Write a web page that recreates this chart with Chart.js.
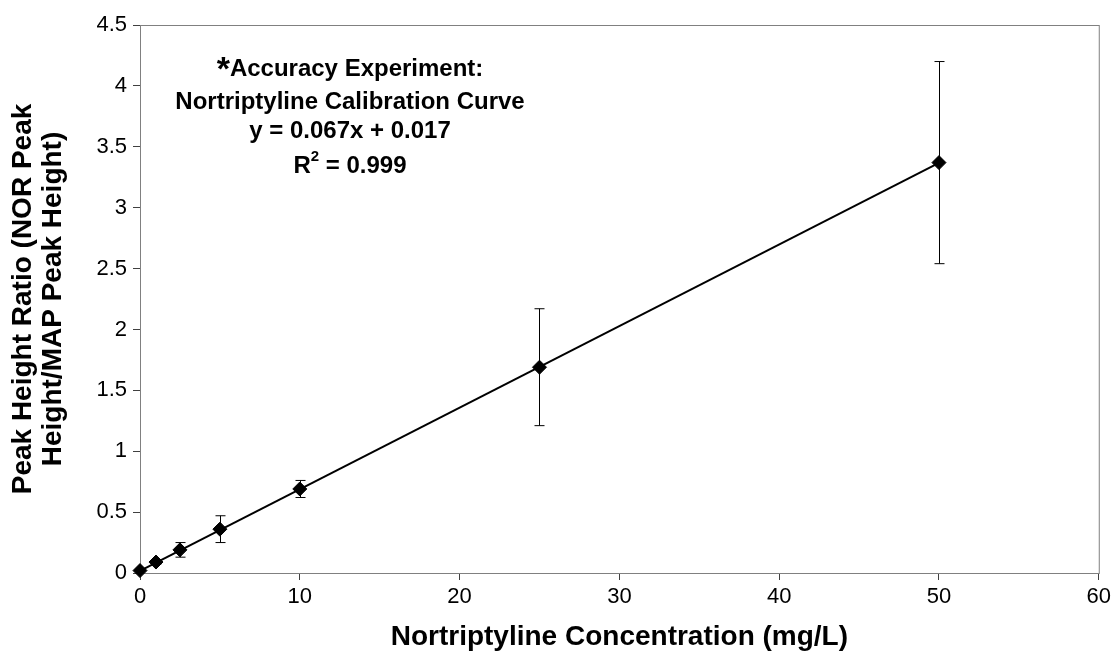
<!DOCTYPE html>
<html>
<head>
<meta charset="utf-8">
<script src="https://cdn.jsdelivr.net/npm/chart.js@4"></script>
<style>
  body { margin: 0; background: #fff; }
  #wrap { width: 1115px; height: 667px; }
</style>
</head>
<body>
<div id="wrap"><canvas id="calChart" width="1115" height="667"></canvas></div>
<script>
// concentrations (mg/L) and mean peak height ratios
const concentrations = [0, 1, 2.5, 5, 10, 25, 50];
const peakRatios = [0.02, 0.09, 0.19, 0.36, 0.69, 1.69, 3.37];
const errors = [0, 0.015, 0.06, 0.11, 0.07, 0.48, 0.83];

// fitted trendline end points
const trendX = [0, 50];
const trendY = [0.017, 3.367];

const xTicks = [0, 10, 20, 30, 40, 50, 60];
const yTicks = [0, 0.5, 1, 1.5, 2, 2.5, 3, 3.5, 4, 4.5];

const noteLines = ['Accuracy Experiment:', 'Nortriptyline Calibration Curve', 'y = 0.067x + 0.017', '= 0.999'];

const FONT = '"Liberation Sans", Arial, sans-serif';

const errorBars = {
  id: 'errorBars',
  afterDatasetsDraw(chart) {
    const ctx = chart.ctx;
    const xs = chart.scales.x, ys = chart.scales.y;
    ctx.save();
    ctx.strokeStyle = '#000';
    ctx.lineWidth = 1;
    concentrations.forEach((c, i) => {
      if (!errors[i]) return;
      const px = Math.round(xs.getPixelForValue(c)) + 0.5;
      const top = ys.getPixelForValue(peakRatios[i] + errors[i]);
      const bot = ys.getPixelForValue(peakRatios[i] - errors[i]);
      ctx.beginPath();
      ctx.moveTo(px, top); ctx.lineTo(px, bot);
      ctx.moveTo(px - 5, top); ctx.lineTo(px + 5, top);
      ctx.moveTo(px - 5, bot); ctx.lineTo(px + 5, bot);
      ctx.stroke();
    });
    ctx.restore();
  }
};

const frameAndNote = {
  id: 'frameAndNote',
  beforeDatasetsDraw(chart) {
    const { ctx, chartArea: a } = chart;
    ctx.save();
    ctx.strokeStyle = '#808080';
    ctx.lineWidth = 1;
    ctx.strokeRect(a.left + 0.5, a.top + 0.5, a.right - a.left, a.bottom - a.top);
    ctx.restore();
  },
  afterDraw(chart) {
    const { ctx, chartArea: a } = chart;
    const cx = a.left + 210;
    ctx.save();
    ctx.fillStyle = '#000';
    ctx.textBaseline = 'alphabetic';
    ctx.font = 'bold 24px ' + FONT;

    // line 1 with the big asterisk in front
    const w1 = ctx.measureText(noteLines[0]).width;
    ctx.font = 'bold 34px ' + FONT;
    const wa = ctx.measureText('*').width;
    const start = cx - (w1 + wa) / 2;
    ctx.fillText('*', start, a.top + 55);
    ctx.font = 'bold 24px ' + FONT;
    ctx.textAlign = 'left';
    ctx.fillText(noteLines[0], start + wa, a.top + 51);

    ctx.textAlign = 'center';
    ctx.fillText(noteLines[1], cx, a.top + 84);
    ctx.fillText(noteLines[2], cx, a.top + 113);

    // R² line
    const wr = ctx.measureText('R').width;
    const wrest = ctx.measureText(' ' + noteLines[3]).width;
    ctx.font = 'bold 15px ' + FONT;
    const ws = ctx.measureText('2').width;
    const s = cx - (wr + ws + wrest) / 2;
    ctx.textAlign = 'left';
    ctx.fillText('2', s + wr, a.top + 136);
    ctx.font = 'bold 24px ' + FONT;
    ctx.fillText('R', s, a.top + 148);
    ctx.fillText(' ' + noteLines[3], s + wr + ws, a.top + 148);
    ctx.restore();
  }
};

new Chart(document.getElementById('calChart'), {
  type: 'scatter',
  data: {
    datasets: [
      {
        label: 'Trendline',
        type: 'line',
        data: trendX.map((x, i) => ({ x: x, y: trendY[i] })),
        borderColor: '#000',
        borderWidth: 2,
        pointRadius: 0,
        fill: false
      },
      {
        label: 'Nortriptyline',
        data: concentrations.map((c, i) => ({ x: c, y: peakRatios[i] })),
        pointStyle: 'rectRot',
        pointRadius: 7,
        pointBackgroundColor: '#000',
        pointBorderColor: '#000',
        pointBorderWidth: 1,
        showLine: false,
        clip: false
      }
    ]
  },
  options: {
    responsive: false,
    animation: false,
    layout: { padding: { top: 25, right: 16, left: 0, bottom: 0 } },
    plugins: {
      legend: { display: false },
      tooltip: { enabled: false }
    },
    scales: {
      x: {
        type: 'linear',
        min: 0,
        max: 60,
        afterBuildTicks: s => { s.ticks = xTicks.map(v => ({ value: v })); },
        afterFit: s => { s.height = 94; },
        grid: { drawOnChartArea: false, drawTicks: true, tickLength: 7, color: '#404040' },
        border: { display: true, color: '#404040', width: 1 },
        ticks: { color: '#000', padding: 4, maxRotation: 0, font: { family: FONT, size: 22 },
                 callback: v => String(v) },
        title: {
          display: true,
          text: 'Nortriptyline Concentration (mg/L)',
          color: '#000',
          padding: { top: 0, bottom: 13 },
          font: { family: FONT, size: 28, weight: 'bold' }
        }
      },
      y: {
        type: 'linear',
        min: 0,
        max: 4.5,
        afterBuildTicks: s => { s.ticks = yTicks.map(v => ({ value: v })); },
        afterFit: s => { s.width = 140; },
        grid: { drawOnChartArea: false, drawTicks: true, tickLength: 7, color: '#404040' },
        border: { display: true, color: '#404040', width: 1 },
        ticks: { color: '#000', padding: 6, font: { family: FONT, size: 22 },
                 callback: v => String(v) },
        title: {
          display: true,
          text: ['Peak Height Ratio (NOR Peak', 'Height/MAP Peak Height)'],
          color: '#000',
          padding: { top: 8, bottom: 0 },
          font: { family: FONT, size: 28, weight: 'bold', lineHeight: 1.07 }
        }
      }
    }
  },
  plugins: [errorBars, frameAndNote]
});
</script>
</body>
</html>
